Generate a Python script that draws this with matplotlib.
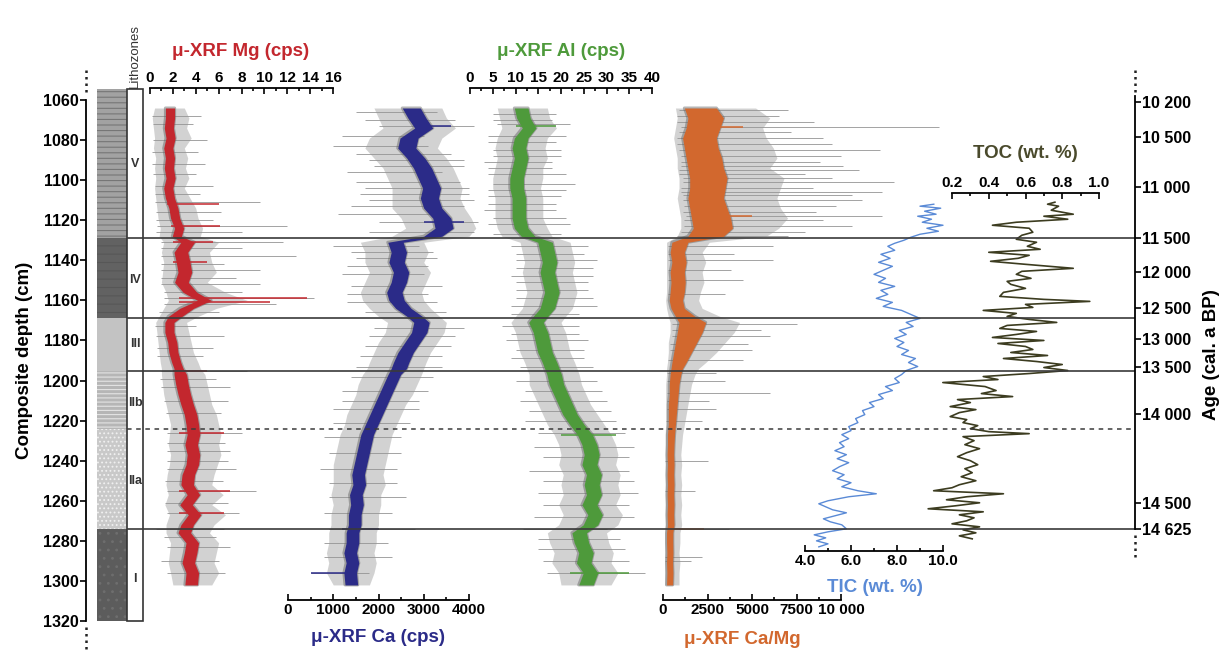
import matplotlib
matplotlib.use('Agg')
import matplotlib.pyplot as plt
from matplotlib.patches import Rectangle

plt.rcParams['font.family'] = ['Liberation Sans', 'DejaVu Sans']
plt.rcParams['font.weight'] = 'bold'
plt.rcParams['hatch.linewidth'] = 0.8

# ---- data (depth in cm)
depth_ticks = [1060, 1080, 1100, 1120, 1140, 1160, 1180, 1200, 1220, 1240, 1260, 1280, 1300, 1320]
age_depth = [1061, 1078.5, 1103.5, 1129, 1146, 1164, 1179.5, 1193, 1216.5, 1261, 1274]
age_labels = ['10 200', '10 500', '11 000', '11 500', '12 000', '12 500', '13 000',
              '13 500', '14 000', '14 500', '14 625']

zone_lines = [1129, 1169, 1195, 1274]
zone_dashed = [1224]
litho_zone = ['V', 'IV', 'III', 'IIb', 'IIa', 'I']
litho_top = [1054.5, 1129, 1169, 1195, 1224, 1274]
litho_base = [1129, 1169, 1195, 1224, 1274, 1320]
litho_label_depth = [1092, 1150, 1182, 1211, 1250, 1299]

xrf_depth = [1064, 1069, 1074, 1079, 1084, 1089, 1094, 1099, 1104, 1109, 1114, 1119, 1124, 1128,
             1131, 1136, 1141, 1146, 1151, 1156, 1160, 1164, 1168,
             1171, 1176, 1181, 1186, 1191, 1194,
             1197, 1202, 1207, 1212, 1217, 1222,
             1227, 1232, 1237, 1242, 1247, 1252, 1257, 1262, 1267, 1272,
             1276, 1281, 1286, 1291, 1296, 1302]

# Mg (cps): coloured band, grey raw band, grey and coloured spikes
mg_lo = [1.35, 1.35, 1.25, 1.4, 1.2, 1.35, 1.25, 1.4, 1.2, 1.35, 1.65, 1.8, 2.15, 1.95,
         2.7, 2.1, 2.3, 2.45, 2.15, 2.9, 4.15, 2.6, 1.6,
         1.3, 1.3, 1.55, 1.65, 1.9, 2.1,
         2.1, 2.25, 2.45, 2.7, 3.0, 3.15,
         3.25, 3.05, 3.25, 3.15, 2.8, 2.7, 3.25, 2.6, 3.35, 2.7,
         2.45, 3.15, 3.0, 2.8, 3.15, 3.05]
mg_hi = [2.15, 2.15, 2.05, 2.2, 2.0, 2.15, 2.05, 2.2, 2.0, 2.15, 2.45, 2.6, 2.95, 2.75,
         3.9, 3.3, 3.5, 3.65, 3.35, 4.1, 5.35, 3.8, 2.8,
         2.1, 2.1, 2.35, 2.45, 2.7, 2.9,
         3.2, 3.35, 3.55, 3.8, 4.1, 4.25,
         4.35, 4.15, 4.35, 4.25, 3.9, 3.8, 4.35, 3.7, 4.45, 3.8,
         3.55, 4.25, 4.1, 3.9, 4.25, 4.15]
mg_glo = [0.4, 0.2, 0.3, 0.4, 0.3, 0.5, 0.4, 0.5, 0.4, 0.5, 0.6, 0.7, 0.9, 0.8,
          1.2, 1.0, 1.2, 1.1, 1.0, 1.4, 1.6, 1.2, 0.8,
          0.5, 0.6, 0.7, 0.8, 0.9, 1.0,
          1.0, 1.1, 1.2, 1.4, 1.6, 1.8,
          1.7, 1.6, 1.8, 1.7, 1.5, 1.4, 1.6, 1.3, 1.7, 1.4,
          1.4, 1.8, 1.7, 1.6, 1.8, 2.0]
mg_ghi = [3.0, 3.4, 3.2, 3.6, 3.0, 3.3, 3.1, 3.4, 3.0, 3.5, 4.0, 4.2, 4.6, 4.4,
          6.0, 5.2, 5.4, 5.8, 5.0, 6.6, 8.5, 5.8, 4.2,
          3.2, 3.4, 3.6, 3.8, 4.2, 4.4,
          4.8, 5.0, 5.2, 5.4, 5.8, 6.0,
          6.2, 6.0, 6.2, 5.9, 5.6, 5.4, 6.4, 5.4, 6.6, 5.6,
          5.2, 6.0, 5.8, 5.6, 6.0, 5.4]
mg_sp_d = [1068, 1080, 1092, 1103, 1111, 1116, 1123, 1126, 1131, 1134, 1138, 1145, 1149, 1152,
           1159, 1162, 1178, 1184, 1195, 1203, 1210, 1226, 1235, 1244, 1255, 1266, 1274, 1283, 1290,
           1072, 1086, 1097, 1107, 1120, 1142, 1156, 1166, 1173, 1188, 1199, 1216, 1231, 1240,
           1250, 1261, 1278, 1296]
mg_sp_lo = [0.2, 0.3, 0.2, 0.4, 0.4, 0.5, 0.6, 0.5, 1.0, 1.0, 1.0, 1.0, 1.0, 1.0,
            1.2, 1.2, 0.5, 0.6, 1.0, 1.0, 1.2, 1.5, 1.5, 1.5, 1.5, 1.5, 0.5, 1.5, 1.0,
            0.3, 0.2, 0.3, 0.4, 0.5, 1.0, 1.2, 0.8, 0.4, 0.6, 0.9, 1.4, 1.5, 1.5,
            1.3, 1.3, 1.2, 1.5]
mg_sp_hi = [4.5, 5.0, 4.8, 5.5, 9.6, 6.2, 12.0, 8.0, 11.6, 8.0, 12.8, 9.6, 7.5, 9.6,
            14.3, 11.0, 6.5, 5.5, 8.5, 7.0, 6.8, 8.0, 7.0, 7.5, 9.3, 7.8, 6.5, 7.0, 6.0,
            3.8, 4.2, 4.0, 4.4, 5.5, 6.5, 8.0, 6.0, 4.0, 4.6, 5.8, 6.2, 6.6, 6.8,
            6.4, 6.8, 5.8, 6.6]
mg_csp_d = [1112, 1123, 1131, 1141, 1159, 1161, 1195, 1226, 1255, 1266]
mg_csp_lo = [1.5, 1.8, 2.0, 2.0, 2.5, 2.5, 2.0, 2.5, 2.5, 2.5]
mg_csp_hi = [6.0, 6.1, 5.5, 5.0, 13.7, 10.5, 5.0, 6.5, 7.0, 6.5]

# Ca (cps)
ca_lo = [2525, 2650, 2800, 2475, 2425, 2625, 2775, 2875, 2975, 2925, 3000, 3200, 3250, 3000,
         2205, 2280, 2230, 2330, 2280, 2180, 2230, 2380, 2630,
         2780, 2730, 2580, 2430, 2330, 2280,
         2210, 2110, 2010, 1910, 1810, 1710,
         1610, 1560, 1510, 1460, 1410, 1435, 1360, 1385, 1335, 1335,
         1285, 1285, 1235, 1285, 1235, 1260]
ca_hi = [2925, 3050, 3200, 2875, 2825, 3025, 3175, 3275, 3375, 3325, 3400, 3600, 3650, 3400,
         2545, 2620, 2570, 2670, 2620, 2520, 2570, 2720, 2970,
         3120, 3070, 2920, 2770, 2670, 2620,
         2490, 2390, 2290, 2190, 2090, 1990,
         1890, 1840, 1790, 1740, 1690, 1715, 1640, 1665, 1615, 1615,
         1565, 1565, 1515, 1565, 1515, 1540]
ca_glo = [1900, 2000, 2100, 1800, 1700, 1900, 2100, 2200, 2300, 2300, 2300, 2500, 2600, 2300,
          1600, 1700, 1700, 1800, 1700, 1600, 1650, 1800, 2000,
          2200, 2150, 2000, 1900, 1800, 1750,
          1650, 1550, 1500, 1400, 1300, 1250,
          1150, 1100, 1050, 1000, 1000, 1000, 950, 1000, 950, 950,
          900, 900, 850, 900, 850, 1000]
ca_ghi = [3400, 3500, 3700, 3400, 3300, 3500, 3650, 3750, 3850, 3800, 3900, 4050, 4150, 4000,
          3000, 3100, 3000, 3150, 3050, 2950, 3000, 3150, 3350,
          3500, 3450, 3300, 3150, 3050, 3000,
          2950, 2850, 2750, 2600, 2500, 2400,
          2300, 2250, 2200, 2150, 2100, 2150, 2050, 2050, 2000, 2000,
          1950, 1950, 1900, 1950, 1900, 1800]
ca_sp_d = [1066, 1073, 1078, 1083, 1090, 1096, 1101, 1107, 1113, 1117, 1121, 1126, 1133, 1139,
           1147, 1153, 1161, 1174, 1183, 1193, 1205, 1214, 1228, 1244, 1258, 1274, 1288, 1296,
           1070, 1087, 1093, 1104, 1110, 1136, 1143, 1157, 1166, 1178, 1188, 1198, 1210, 1221,
           1236, 1251, 1266, 1281]
ca_sp_lo = [1500, 2000, 1200, 1000, 1800, 1300, 1500, 1600, 1400, 1100, 2000, 1800, 1000, 1500,
            1200, 1400, 1300, 1900, 1700, 1500, 1200, 1000, 800, 700, 900, 900, 800, 500,
            1700, 1500, 1900, 1700, 1800, 1400, 1300, 1300, 1700, 1800, 1600, 1400, 1200, 1000,
            900, 900, 800, 800]
ca_sp_hi = [3300, 4100, 3000, 3100, 3900, 3400, 3800, 4000, 3900, 3500, 4200, 4100, 2900, 3300,
            3000, 3400, 3300, 3900, 3600, 3400, 3100, 2900, 2500, 2400, 2600, 2800, 2300, 1800,
            3700, 3600, 3900, 4000, 4100, 3200, 3100, 3100, 3500, 3700, 3400, 3200, 2900, 2700,
            2500, 2400, 2300, 2200]
ca_csp_d = [1073, 1121, 1274, 1296]
ca_csp_lo = [2800, 3000, 1200, 500]
ca_csp_hi = [3600, 3900, 2000, 1500]

# Al (cps)
al_lo = [9.75, 10.25, 11.5, 9.75, 9.25, 9.75, 9.25, 8.75, 8.75, 9.25, 9.25, 9.25, 9.75, 11.25,
         14.9, 15.4, 15.9, 15.4, 15.9, 16.4, 15.9, 15.4, 13.9,
         12.9, 13.9, 14.4, 14.9, 15.9, 16.4,
         16.9, 17.4, 18.4, 19.4, 20.4, 21.9,
         23.6, 24.6, 25.1, 24.6, 25.6, 25.1, 25.6, 24.6, 25.9, 24.9,
         22.4, 22.9, 23.9, 23.4, 24.9, 23.9]
al_hi = [12.75, 13.25, 14.5, 12.75, 12.25, 12.75, 12.25, 11.75, 11.75, 12.25, 12.25, 12.25, 12.75, 14.25,
         18.1, 18.6, 19.1, 18.6, 19.1, 19.6, 19.1, 18.6, 17.1,
         16.1, 17.1, 17.6, 18.1, 19.1, 19.6,
         20.1, 20.6, 21.6, 22.6, 23.6, 25.1,
         26.9, 27.9, 28.4, 27.9, 28.9, 28.4, 28.9, 27.9, 29.1, 28.1,
         25.6, 26.1, 27.1, 26.6, 28.1, 27.1]
al_glo = [6, 6.5, 7, 6, 5.5, 6, 5.5, 5, 5, 5.5, 5.5, 5.5, 6, 7,
          11, 11.5, 12, 11.5, 12, 12.5, 12, 11.5, 10,
          9, 10, 10.5, 11, 12, 12.5,
          13, 13, 14, 15, 16, 17,
          18.5, 19.5, 20, 19.5, 20.5, 20, 20.5, 19.5, 20.5, 19.5,
          17, 17.5, 18.5, 18, 19.5, 20]
al_ghi = [17, 17.5, 19, 17, 16.5, 17, 16, 16, 15.5, 16, 16, 16, 17, 18,
          22, 22.5, 23, 22.5, 23, 23.5, 23, 22.5, 21,
          20, 21, 21.5, 22, 23, 23.5,
          24, 24.5, 25.5, 26.5, 28, 29.5,
          31, 32, 32.5, 32, 33, 32.5, 33, 32, 33.5, 32.5,
          30, 30.5, 31.5, 31, 32.5, 31]
al_sp_d = [1067, 1072, 1078, 1085, 1091, 1097, 1102, 1108, 1115, 1122, 1127, 1133, 1140, 1148,
           1155, 1163, 1173, 1180, 1189, 1200, 1210, 1220, 1233, 1245, 1256, 1268, 1274, 1284, 1296,
           1070, 1081, 1088, 1094, 1105, 1112, 1119, 1137, 1144, 1151, 1159, 1167, 1177, 1185,
           1193, 1205, 1215, 1226, 1238, 1250, 1262, 1279, 1290]
al_sp_lo = [5, 6, 4, 5, 3, 4, 5, 4, 3, 4, 5, 9, 10, 9,
            10, 9, 7, 8, 9, 10, 11, 12, 14, 13, 15, 14, 11.6, 15, 17,
            5, 4, 5, 4, 4, 4, 5, 10, 10, 10, 10, 9, 9, 10,
            11, 12, 13, 15, 16, 16, 16, 15, 16]
al_sp_hi = [19, 22, 21, 20, 18, 21, 23, 20, 19, 22, 20, 26, 28, 27,
            26, 28, 24, 26, 25, 28, 30, 32, 36, 35, 37, 36, 30, 34, 38.5,
            18, 19, 20, 18, 21, 19, 21, 25, 27, 26, 27, 24, 24, 25,
            27, 29, 31, 34, 35, 36, 35, 33, 35]
al_csp_d = [1073, 1227, 1296]
al_csp_lo = [10, 20, 22]
al_csp_hi = [19, 32, 35]

# Ca/Mg ratio
cm_lo = [1200, 1400, 1300, 1100, 1200, 1300, 1400, 1500, 1500, 1400, 1500, 1600, 1700, 1400,
         500, 400, 500, 400, 450, 400, 350, 450, 700,
         900, 800, 700, 600, 500, 450,
         400, 350, 350, 300, 300, 300,
         250, 250, 230, 250, 230, 250, 230, 250, 230, 250,
         200, 200, 220, 200, 220, 200]
cm_hi = [3000, 3400, 3200, 3000, 3100, 3300, 3400, 3600, 3500, 3400, 3600, 3800, 3900, 3400,
         1400, 1200, 1300, 1200, 1250, 1200, 1100, 1200, 1800,
         2400, 2200, 1900, 1600, 1300, 1100,
         1000, 900, 850, 800, 750, 700,
         650, 620, 600, 620, 600, 620, 600, 620, 600, 620,
         550, 550, 560, 540, 560, 540]
cm_glo = [700, 800, 700, 600, 700, 800, 800, 900, 900, 800, 900, 1000, 1000, 800,
          200, 200, 200, 200, 200, 200, 150, 200, 300,
          400, 400, 300, 300, 250, 200,
          200, 150, 150, 150, 150, 150,
          120, 120, 110, 120, 110, 120, 110, 120, 110, 120,
          100, 100, 100, 100, 100, 100]
cm_ghi = [5200, 6000, 5600, 5800, 6200, 6400, 6000, 6800, 6600, 6400, 6600, 7000, 6500, 5800,
          2600, 2200, 2400, 2200, 2300, 2100, 2000, 2200, 3200,
          4300, 4000, 3500, 3000, 2400, 2000,
          1800, 1600, 1500, 1400, 1300, 1200,
          1100, 1050, 1000, 1050, 1000, 1050, 1000, 1050, 1000, 1050,
          950, 950, 900, 950, 900, 900]
cm_sp_d = [1068, 1073.5, 1079, 1085, 1088, 1093, 1097, 1101, 1106, 1107.5, 1113, 1118, 1123, 1126,
           1133, 1140, 1150, 1172, 1178, 1185, 1190, 1200, 1206, 1214, 1240, 1274, 1288,
           1065, 1071, 1076, 1082, 1091, 1095, 1099, 1104, 1110, 1116, 1120, 1128, 1137, 1145,
           1157, 1175, 1182, 1196, 1210, 1220, 1255, 1290]
cm_sp_lo = [800, 1000, 800, 900, 1000, 1000, 900, 1100, 1000, 1100, 1200, 1300, 1200, 1000,
            300, 300, 300, 500, 500, 400, 300, 200, 200, 200, 100, 200, 100,
            900, 800, 900, 800, 1000, 900, 1100, 1000, 1100, 1100, 1200, 800, 300, 300,
            300, 500, 400, 200, 200, 150, 100, 100]
cm_sp_hi = [6500, 15500, 9000, 12200, 10000, 10100, 8000, 13000, 12300, 10600, 9700, 12300, 10600, 8000,
            6200, 6200, 4500, 7500, 6000, 5000, 4500, 3500, 6000, 3000, 2500, 3700, 2200,
            7000, 8500, 7200, 9500, 8800, 11000, 9500, 8400, 11200, 8600, 9000, 7000, 4000, 3800,
            3500, 5500, 4800, 3000, 2600, 2200, 1800, 1600]
cm_csp_d = [1073.5, 1118, 1274]
cm_csp_lo = [1500, 1800, 300]
cm_csp_hi = [4500, 5000, 2300]

# TIC and TOC (wt. %)
tic_depth = [1112, 1113, 1114, 1115.5, 1117, 1118, 1119.5, 1121, 1122.5, 1124,
             1125.5, 1127, 1128.5, 1130, 1131.5, 1133, 1135, 1137, 1139, 1141,
             1143, 1145, 1147, 1149, 1151, 1153, 1155, 1157, 1159, 1161,
             1163, 1165, 1167, 1169, 1171, 1173, 1175, 1177, 1179, 1181,
             1183, 1185, 1187, 1189, 1191, 1193, 1195, 1197, 1199, 1201,
             1203, 1205, 1207, 1209, 1211, 1213, 1215, 1217, 1219, 1221,
             1223, 1225, 1227, 1229, 1231, 1233, 1235, 1237, 1239, 1241,
             1243, 1245, 1247, 1249, 1251, 1253, 1255, 1256.5, 1258, 1260,
             1261.5, 1263, 1264.5, 1266, 1267.5, 1269, 1270.5, 1272, 1274, 1275.5,
             1277, 1278.5, 1280, 1281.5, 1283]
tic_val = [9.6, 9.0, 9.9, 9.2, 9.7, 8.9, 9.5, 9.1, 10.0, 9.3,
           9.8, 9.0, 8.6, 8.3, 7.9, 7.6, 7.9, 7.3, 7.7, 7.2,
           7.8, 7.4, 7.0, 7.5, 7.2, 7.9, 7.3, 7.6, 7.1, 7.8,
           7.4, 8.2, 8.6, 9.0, 8.4, 8.7, 8.1, 8.4, 7.9, 8.3,
           8.0, 8.5, 8.2, 8.8, 8.5, 8.9, 8.4, 8.2, 7.9, 8.1,
           7.5, 7.8, 7.2, 7.4, 6.8, 7.0, 6.5, 6.6, 6.2, 6.3,
           5.9, 6.0, 5.6, 5.9, 5.5, 5.7, 5.3, 5.8, 5.4, 5.9,
           5.5, 5.2, 5.7, 5.4, 6.0, 5.6, 6.3, 7.1, 5.9, 5.0,
           4.6, 4.9, 5.2, 5.8, 5.3, 4.8, 5.1, 5.6, 5.8, 5.0,
           4.4, 4.9, 4.5, 5.0, 4.6]
toc_depth = [1111, 1112, 1113, 1115, 1117, 1118, 1119.5, 1121, 1122.5, 1124,
             1126, 1127.5, 1129.5, 1131, 1133, 1134.5, 1136, 1137.5, 1139, 1140.5,
             1142, 1144, 1145.5, 1147, 1149, 1150.5, 1152, 1154, 1156, 1158,
             1159.5, 1160.5, 1162, 1163.5, 1165, 1166.5, 1168, 1169.5, 1171, 1172.5,
             1174, 1175.5, 1177, 1178.5, 1180, 1181.5, 1183, 1184.5, 1186, 1187.5,
             1189, 1190.5, 1192, 1193.5, 1195, 1196.5, 1198, 1199.5, 1201, 1203,
             1205, 1206.5, 1208, 1209.5, 1211, 1213, 1214.5, 1216, 1218, 1219.5,
             1221, 1222.5, 1224, 1225.5, 1226.5, 1228, 1230, 1232, 1234, 1236,
             1238, 1240, 1242, 1244, 1246, 1248, 1250, 1252, 1253.5, 1255,
             1256.5, 1258, 1259.5, 1261, 1262.5, 1264, 1265.5, 1267, 1268.5, 1270,
             1271.5, 1273, 1274.5, 1276, 1277.5, 1279]
toc_val = [0.76, 0.72, 0.78, 0.74, 0.86, 0.70, 0.83, 0.55, 0.42, 0.62,
           0.64, 0.58, 0.55, 0.66, 0.61, 0.68, 0.40, 0.62, 0.56, 0.41,
           0.60, 0.86, 0.58, 0.55, 0.63, 0.50, 0.52, 0.60, 0.48, 0.46,
           0.70, 0.95, 0.60, 0.64, 0.37, 0.55, 0.50, 0.62, 0.77, 0.50,
           0.46, 0.66, 0.55, 0.42, 0.70, 0.45, 0.60, 0.64, 0.52, 0.72,
           0.48, 0.66, 0.80, 0.70, 0.83, 0.62, 0.37, 0.45, 0.15, 0.38,
           0.44, 0.36, 0.53, 0.23, 0.30, 0.19, 0.33, 0.24, 0.19, 0.28,
           0.26, 0.34, 0.30, 0.40, 0.62, 0.26, 0.32, 0.27, 0.35, 0.28,
           0.23, 0.30, 0.34, 0.27, 0.31, 0.25, 0.33, 0.24, 0.20, 0.10,
           0.48, 0.28, 0.17, 0.35, 0.22, 0.07, 0.37, 0.24, 0.32, 0.28,
           0.20, 0.35, 0.26, 0.33, 0.24, 0.31]

mg_ticks = [0, 2, 4, 6, 8, 10, 12, 14, 16]
ca_ticks = [0, 1000, 2000, 3000, 4000]
al_ticks = [0, 5, 10, 15, 20, 25, 30, 35, 40]
cm_ticks = [0, 2500, 5000, 7500, 10000]
cm_tick_labels = ['0', '2500', '5000', '7500', '10 000']
tic_ticks = [4, 6, 8, 10]
tic_tick_labels = ['4.0', '6.0', '8.0', '10.0']
toc_ticks = [0.2, 0.4, 0.6, 0.8, 1.0]
toc_tick_labels = ['0.2', '0.4', '0.6', '0.8', '1.0']

# ---- layout (pixels of the 1226x650 figure)
W, H = 1226, 650
D_TOP, D_BOT = 1060, 1320
Y_TOP, Y_BOT = 100, 621

C_MG, C_CA, C_AL, C_CM = '#c3272e', '#2b2b88', '#4e9a3b', '#d2682e'
C_TIC, C_TOC = '#5a8ad6', '#3c3c20'
GREY = '#a6a6a6'

fig = plt.figure(figsize=(12.26, 6.5), dpi=100)


def px_axes(x0, x1):
    return fig.add_axes([x0 / W, 1 - Y_BOT / H, (x1 - x0) / W, (Y_BOT - Y_TOP) / H])


def panel(x0, x1, lim, side, where, ticks, minor, labels=None):
    ax = px_axes(x0, x1)
    ax.set_xlim(*lim)
    ax.set_ylim(D_BOT, D_TOP)
    ax.patch.set_visible(False)
    for s in ax.spines.values():
        s.set_visible(False)
    ax.set_yticks([])
    sp = ax.spines[side]
    sp.set_visible(True)
    sp.set_position(where)
    sp.set_linewidth(1.3)
    ax.xaxis.set_ticks_position(side)
    ax.set_xticks(ticks, labels if labels else [str(t) for t in ticks])
    ax.set_xticks(minor, minor=True)
    ax.tick_params(axis='x', which='both', direction='in', width=1.2, labelsize=11, pad=2)
    ax.tick_params(axis='x', which='major', length=4)
    ax.tick_params(axis='x', which='minor', length=2.5)
    return ax


def xrf(ax, lo, hi, glo, ghi, sd, slo, shi, cd, clo, chi, color):
    # raw scanner counts in grey, smoothed record in colour with a dark fringe
    ax.fill_betweenx(xrf_depth, glo, ghi, color=GREY, alpha=0.5, lw=0, clip_on=False, zorder=1)
    ax.hlines(sd, slo, shi, color='#939393', lw=0.7, alpha=0.85, clip_on=False, zorder=1.5)
    ax.fill_betweenx(xrf_depth, lo, hi, facecolor='none', edgecolor='#5e5e5e', lw=2.2,
                     alpha=0.45, clip_on=False, zorder=2)
    ax.fill_betweenx(xrf_depth, lo, hi, color=color, lw=0, clip_on=False, zorder=2.5)
    ax.hlines(cd, clo, chi, color=color, lw=1.1, clip_on=False, zorder=3)


top_out = ('outward', 12 * 0.72)

# ---- Mg
ax_mg = panel(150, 333, (0, 16), 'top', top_out, mg_ticks, [1, 3, 5, 7, 9, 11, 13, 15])
xrf(ax_mg, mg_lo, mg_hi, mg_glo, mg_ghi, mg_sp_d, mg_sp_lo, mg_sp_hi,
    mg_csp_d, mg_csp_lo, mg_csp_hi, C_MG)

# ---- Ca
ax_ca = panel(288, 469, (0, 4000), 'bottom', ('data', 1309.5), ca_ticks, [500, 1500, 2500, 3500])
xrf(ax_ca, ca_lo, ca_hi, ca_glo, ca_ghi, ca_sp_d, ca_sp_lo, ca_sp_hi,
    ca_csp_d, ca_csp_lo, ca_csp_hi, C_CA)

# ---- Al
ax_al = panel(470, 652, (0, 40), 'top', top_out, al_ticks, [2.5, 7.5, 12.5, 17.5, 22.5, 27.5, 32.5, 37.5])
xrf(ax_al, al_lo, al_hi, al_glo, al_ghi, al_sp_d, al_sp_lo, al_sp_hi,
    al_csp_d, al_csp_lo, al_csp_hi, C_AL)

# ---- Ca/Mg
ax_cm = panel(663, 841, (0, 10000), 'bottom', ('data', 1309.5), cm_ticks, [1250, 3750, 6250, 8750],
              cm_tick_labels)
xrf(ax_cm, cm_lo, cm_hi, cm_glo, cm_ghi, cm_sp_d, cm_sp_lo, cm_sp_hi,
    cm_csp_d, cm_csp_lo, cm_csp_hi, C_CM)

# ---- TIC / TOC
ax_tic = panel(805, 943, (4, 10), 'bottom', ('data', 1285), tic_ticks, [5, 7, 9], tic_tick_labels)
ax_tic.plot(tic_val, tic_depth, color=C_TIC, lw=1.0, clip_on=False)

ax_toc = panel(952, 1099, (0.2, 1.0), 'top', ('data', 1106.4), toc_ticks, [0.3, 0.5, 0.7, 0.9],
               toc_tick_labels)
ax_toc.plot(toc_val, toc_depth, color=C_TOC, lw=1.2, clip_on=False)

# ---- depth / age frame
ax = px_axes(86, 1135)
ax.set_xlim(0, 1)
ax.set_ylim(D_BOT, D_TOP)
ax.patch.set_visible(False)
for s in ['top', 'bottom', 'right']:
    ax.spines[s].set_visible(False)
ax.spines['left'].set_linewidth(1.3)
ax.set_xticks([])
ax.set_yticks(depth_ticks)
ax.tick_params(axis='y', direction='out', length=4, width=1.2, labelsize=11.5, pad=1)

ax2 = ax.twinx()
ax2.set_ylim(D_BOT, D_TOP)
for s in ['top', 'bottom', 'left']:
    ax2.spines[s].set_visible(False)
ax2.spines['right'].set_linewidth(1.3)
ax2.spines['right'].set_bounds(1058, 1274)
ax2.set_yticks(age_depth, age_labels)
ax2.tick_params(axis='y', direction='out', length=4, width=1.2, labelsize=11.5, pad=1)

dots = dict(color='#222222', lw=1.8, ls=(0, (1.0, 1.6)), clip_on=False)
ax.plot([0, 0], [1045, 1056], **dots)
ax.plot([0, 0], [1323, 1334.5], **dots)
ax.plot([1, 1], [1045, 1056], **dots)
ax.plot([1, 1], [1277, 1289], **dots)

# lithology column and lithozone box
x_bar, w_bar = 11 / 1049, 30 / 1049
x_box, w_box = 41 / 1049, 16 / 1049
litho_face = ['#a2a2a2', '#626262', '#c3c3c3', '#b6b6b6', '#c9c9c9', '#5c5c5c']
litho_hatch = ['---', '--', None, '----', '....', '..']
litho_hcol = ['#767676', '#575757', None, '#e4e4e4', '#f0f0f0', '#6e6e6e']
for top, base, fc, hat, hc in zip(litho_top, litho_base, litho_face, litho_hatch, litho_hcol):
    ax.add_patch(Rectangle((x_bar, top), w_bar, base - top, facecolor=fc, lw=0, clip_on=False))
    if hat:
        ax.add_patch(Rectangle((x_bar, top), w_bar, base - top, fill=False, hatch=hat,
                               edgecolor=hc, lw=0, clip_on=False))
ax.add_patch(Rectangle((x_box, litho_top[0]), w_box, litho_base[-1] - litho_top[0], fill=False,
                       edgecolor='#333333', lw=1.2, clip_on=False))
for name, d in zip(litho_zone, litho_label_depth):
    ax.text(x_box + w_box / 2, d, name, ha='center', va='center', fontsize=9, color='#333333')

# zone boundaries across the panels
ax2.hlines(zone_lines, x_box, 1, color='#3a3a3a', lw=1.2)
ax2.hlines(zone_dashed, x_box, 1, color='#3a3a3a', lw=1.1, linestyles=(0, (3, 3)))

# ---- titles
fig.text(135 / W, 1 - 88 / H, 'Lithozones', rotation=90, ha='center', va='bottom',
         fontsize=9.5, fontweight='normal', color='#333333')
fig.text(241 / W, 1 - 52 / H, 'μ-XRF Mg (cps)', color=C_MG, fontsize=13.5, ha='center', va='center')
fig.text(561 / W, 1 - 52 / H, 'μ-XRF Al (cps)', color=C_AL, fontsize=13.5, ha='center', va='center')
fig.text(378 / W, 1 - 637 / H, 'μ-XRF Ca (cps)', color=C_CA, fontsize=13.5, ha='center', va='center')
fig.text(742 / W, 1 - 639 / H, 'μ-XRF Ca/Mg', color=C_CM, fontsize=13.5, ha='center', va='center')
fig.text(875 / W, 1 - 587 / H, 'TIC (wt. %)', color=C_TIC, fontsize=13.5, ha='center', va='center')
fig.text(1025 / W, 1 - 153 / H, 'TOC (wt. %)', color='#4a4a2c', fontsize=13.5, ha='center', va='center')
fig.text(25 / W, 1 - 360 / H, 'Composite depth (cm)', rotation=90, fontsize=13.5,
         ha='center', va='center')
fig.text(1212 / W, 1 - 355 / H, 'Age (cal. a BP)', rotation=90, fontsize=13.5,
         ha='center', va='center')

fig.savefig('out.png', dpi=100)
